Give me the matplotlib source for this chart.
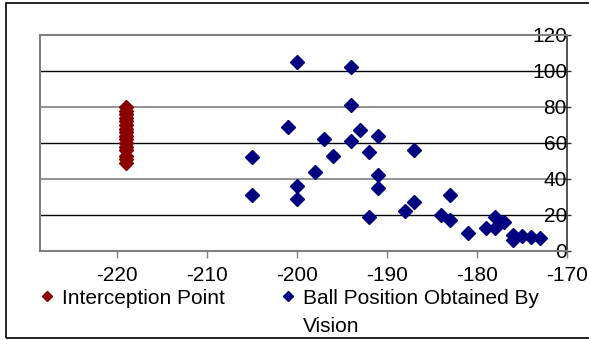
import matplotlib
matplotlib.use("Agg")
import matplotlib.pyplot as plt
from matplotlib.lines import Line2D
from matplotlib.patches import Rectangle

plt.rcParams['font.family'] = ['Liberation Sans', 'DejaVu Sans']

# interception point (red column)
intercept_x = [-219] * 16
intercept_y = [49, 51, 53, 56, 58, 60, 62, 64, 66, 68, 70, 72, 74, 76, 78, 80]

# ball position obtained by vision (blue)
ball_x = [-200, -194, -194, -201, -197, -194, -193, -191, -192, -187, -196, -205,
          -198, -200, -200, -205, -191, -191, -192, -188, -187, -184, -183, -183,
          -181, -179, -178, -178, -177, -176, -176, -175, -174, -173]
ball_y = [105, 102, 81, 69, 62, 61, 67, 64, 55, 56, 53, 52,
          44, 36, 29, 31, 42, 35, 19, 22, 27, 20, 17, 31,
          10, 13, 19, 13, 16, 9, 6, 8.5, 8, 7]

x_ticks = [-220, -210, -200, -190, -180, -170]
y_ticks = [0, 20, 40, 60, 80, 100, 120]

red = '#8B0000'
navy = '#000080'

fig = plt.figure(figsize=(5.89, 3.40), dpi=100)
ax = fig.add_axes([40/589, 1 - 251/340, (567 - 40)/589, (251 - 35)/340])

ax.plot(intercept_x, intercept_y, 'D', color=red, markersize=7, linestyle='none', zorder=3)
ax.plot(ball_x, ball_y, 'D', color=navy, markersize=7, linestyle='none', zorder=3)

ax.set_xlim(-228.5, -170)
ax.set_ylim(0, 120)

# gridlines (40 and 80 look gray in the original)
for v in y_ticks[1:-1]:
    c = '#808080' if v in (40, 80) else 'black'
    ax.axhline(v, color=c, lw=1.2 if c != 'black' else 1, zorder=1)

ax.set_xticks(x_ticks)
ax.set_xticklabels([str(v) for v in x_ticks], fontsize=15)
ax.set_yticks(y_ticks)
ax.set_yticklabels([str(v) for v in y_ticks], fontsize=15)

ax.tick_params(axis='x', direction='out', length=5, width=1, color='#808080', pad=6)
ax.tick_params(axis='y', left=False, right=True, labelleft=False, labelright=True,
               direction='inout', length=6, width=1, color='#333333', pad=-3)
for lab in ax.get_yticklabels():
    lab.set_horizontalalignment('right')

for s in ('left', 'top', 'bottom'):
    ax.spines[s].set_color('#808080')
    ax.spines[s].set_linewidth(1.5)
ax.spines['right'].set_color('#333333')
ax.spines['right'].set_linewidth(1.2)

# outer chart border
fig.patches.append(Rectangle((6/589, 2/340), 1.0, 335/340, transform=fig.transFigure,
                             fill=False, edgecolor='black', lw=1.2))

handles = [Line2D([], [], marker='D', color=red, linestyle='none', markersize=5.5),
           Line2D([], [], marker='D', color=navy, linestyle='none', markersize=5.5)]
leg = fig.legend(handles, ['Interception Point', 'Ball Position Obtained By'],
                 loc='center left', bbox_to_anchor=(41/589, 1 - 298/340),
                 ncol=2, frameon=False, fontsize=15, handlelength=0.6,
                 handletextpad=0.4, columnspacing=2.75, borderpad=0, borderaxespad=0)

fig.canvas.draw()
tb = leg.get_texts()[1].get_window_extent().transformed(fig.transFigure.inverted())
fig.text(tb.x0, tb.y0 - 29/340 + (tb.y1 - tb.y0) / 2, 'Vision', fontsize=15,
         ha='left', va='center')

fig.savefig('out.png', dpi=100)
